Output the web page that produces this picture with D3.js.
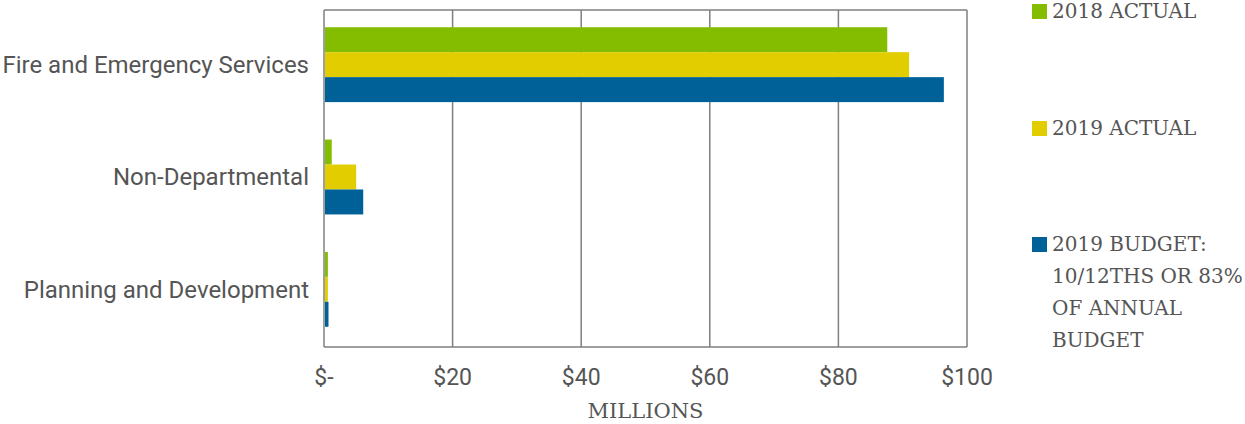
<!DOCTYPE html>
<html><head><meta charset="utf-8">
<script src="https://cdn.jsdelivr.net/npm/d3@7"></script>
<style>body{margin:0;background:#fff}</style>
</head><body>
<svg id="c" width="1245" height="424"></svg>
<script>
const categories = ["Fire and Emergency Services", "Non-Departmental", "Planning and Development"];
const seriesNames = ["2018 ACTUAL", "2019 ACTUAL", "2019 BUDGET: 10/12THS OR 83% OF ANNUAL BUDGET"];
const actual2018 = [87.6, 1.2, 0.6];
const actual2019 = [91.0, 5.0, 0.6];
const budget2019 = [96.4, 6.1, 0.7];
const tickValues = [0, 20, 40, 60, 80, 100];
const tickLabels = ["$-", "$20", "$40", "$60", "$80", "$100"];
const colors = ["#84bd00", "#e1cd00", "#006098"];

(function(){
const svg = d3.select("#c");
const pLeft = 324, pRight = 967, pTop = 10, pBottom = 347;
const x = d3.scaleLinear().domain([0, 100]).range([pLeft, pRight]);
const y = d3.scaleBand().domain(categories).range([pTop - 1.5, pBottom - 1.5]).paddingInner(1/3).paddingOuter(1/6);
const series = [actual2018, actual2019, budget2019];
const y1 = d3.scaleBand().domain([0,1,2]).range([0, y.bandwidth()]);

// gridlines
svg.append("g").selectAll("line").data(tickValues).join("line")
  .attr("x1", d => x(d)).attr("x2", d => x(d)).attr("y1", pTop).attr("y2", pBottom)
  .attr("stroke", "#7f7f7f").attr("stroke-width", 1.5);
svg.append("line").attr("x1", pLeft).attr("x2", pRight).attr("y1", pTop).attr("y2", pTop)
  .attr("stroke", "#7f7f7f").attr("stroke-width", 1.5);
svg.append("line").attr("x1", pLeft).attr("x2", pRight).attr("y1", pBottom).attr("y2", pBottom)
  .attr("stroke", "#7f7f7f").attr("stroke-width", 1.5);

// bars
series.forEach((vals, si) => {
  svg.append("g").selectAll("rect").data(vals).join("rect")
    .attr("x", x(0) + 1)
    .attr("y", (d, i) => y(categories[i]) + y1(si))
    .attr("width", d => Math.max(0, x(d) - x(0) - 1))
    .attr("height", y1.bandwidth())
    .attr("fill", colors[si]);
});

// x axis labels
svg.append("g").selectAll("text").data(tickValues).join("text")
  .attr("x", d => x(d)).attr("y", 377).attr("dy", "0.35em")
  .attr("text-anchor", "middle")
  .style("font-family", "Roboto, sans-serif").style("font-size", "23px").attr("fill", "#555555")
  .text((d, i) => tickLabels[i]);

svg.append("text").attr("x", (pLeft + pRight) / 2).attr("y", 411).attr("dy", "0.35em")
  .attr("text-anchor", "middle")
  .style("font-family", "'DejaVu Serif', serif").style("font-size", "21px").attr("fill", "#555555")
  .text("MILLIONS");

// category labels
svg.append("g").selectAll("text").data(categories).join("text")
  .attr("x", 309).attr("y", d => y(d) + y.bandwidth() / 2).attr("dy", "0.35em")
  .attr("text-anchor", "end")
  .style("font-family", "Roboto, sans-serif").style("font-size", "24px").attr("fill", "#555555")
  .text(d => d);

// legend
const legendLines = [["2018 ACTUAL"], ["2019 ACTUAL"], ["2019 BUDGET:", "10/12THS OR 83%", "OF ANNUAL", "BUDGET"]];
const legendY = [11, 128, 244];
legendLines.forEach((lines, i) => {
  svg.append("rect").attr("x", 1032).attr("y", legendY[i] - 7).attr("width", 15).attr("height", 15).attr("fill", colors[i]);
  svg.append("g").selectAll("text").data(lines).join("text")
    .attr("x", 1052).attr("y", (d, j) => legendY[i] + j * 32).attr("dy", "0.35em")
    .style("font-family", "'DejaVu Serif', serif").style("font-size", "20px").attr("fill", "#555555")
    .text(d => d);
});
})();
</script>
</body></html>
